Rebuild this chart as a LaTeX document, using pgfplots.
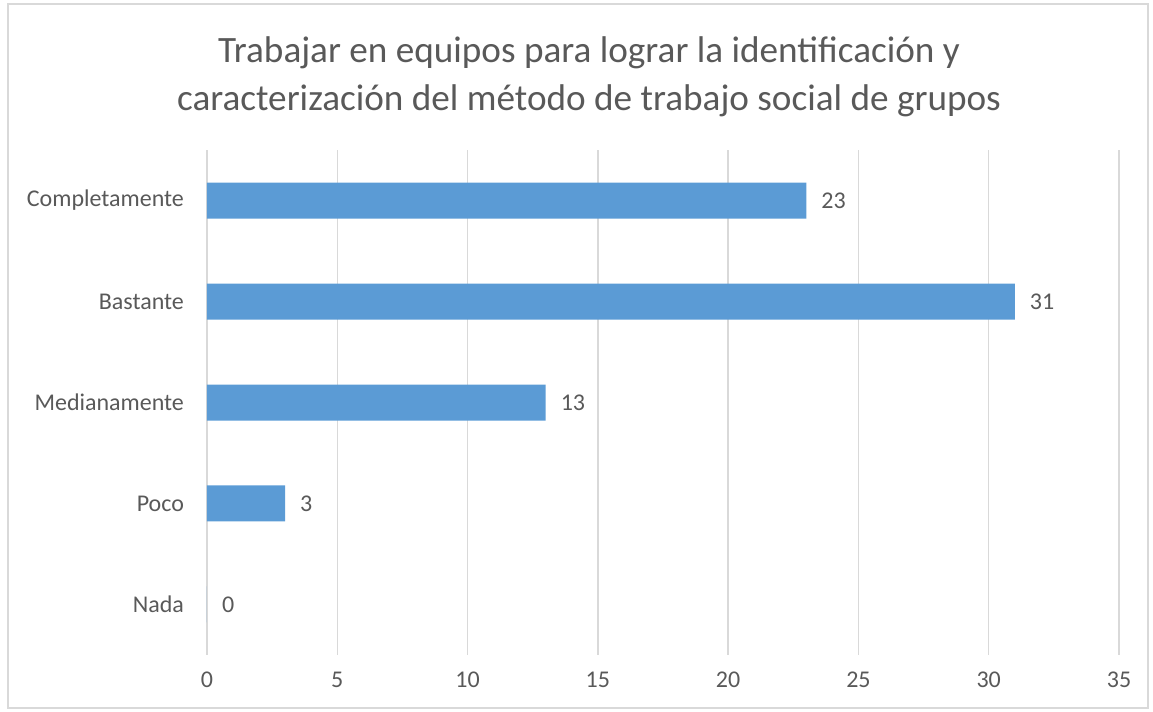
\documentclass[border=0pt]{standalone}
\usepackage{pgfplots}
\pgfplotsset{compat=1.18}
\usepackage{fontspec}
\setmainfont{Carlito}
\definecolor{barblue}{HTML}{5B9BD5}
\definecolor{txtgray}{HTML}{595959}
\definecolor{gridgray}{HTML}{D9D9D9}
\begin{document}
\begin{tikzpicture}
\path (0,0) rectangle (576.5pt,356pt);
\draw[gridgray, line width=0.75pt] (4pt,2pt) rectangle (574pt,354pt);
\node[txtgray, font=\fontsize{18.6}{24}\selectfont, align=center] at (294.5pt,317.5pt) {Trabajar en equipos para lograr la identificación y\\caracterización del método de trabajo social de grupos};
\begin{axis}[
  at={(103.5pt,28.5pt)}, anchor=south west,
  scale only axis, width=456pt, height=252.5pt,
  xbar, bar width=18pt,
  xmin=0, xmax=35, ymin=-0.5, ymax=4.5,
  xtick={0,5,...,35},
  ytick={0,1,2,3,4},
  yticklabels={Nada,Poco,Medianamente,Bastante,Completamente},
  xmajorgrids, grid style={gridgray, line width=0.75pt},
  axis line style={draw=none},
  major tick length=0pt,
  tick label style={txtgray, font=\fontsize{12}{14}\selectfont},
  xticklabel style={yshift=-5pt},
  yticklabel style={xshift=-8pt},
  /pgf/number format/assume math mode=true,
  nodes near coords,
  every node near coord/.append style={txtgray, font=\fontsize{12}{14}\selectfont, anchor=west, xshift=4pt},
]
\addplot[fill=barblue, draw=none] coordinates {(0,0) (3,1) (13,2) (31,3) (23,4)};
\end{axis}
\end{tikzpicture}
\end{document}
